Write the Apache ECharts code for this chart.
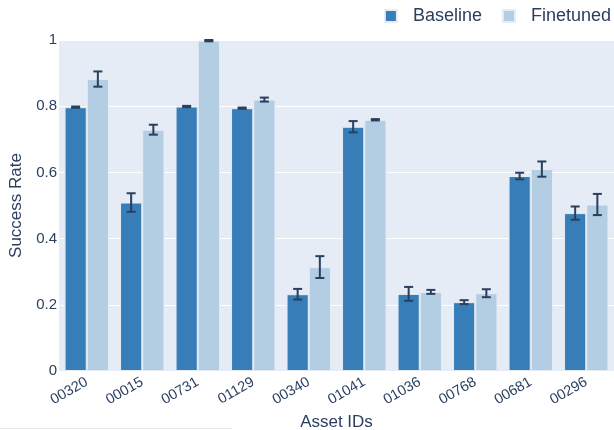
<!DOCTYPE html>
<html>
<head>
<meta charset="utf-8">
<script src="https://cdn.jsdelivr.net/npm/echarts@6/dist/echarts.min.js"></script>
<style>
  html, body { margin: 0; padding: 0; background: #fff; }
  #chart { width: 614px; height: 430px; }
</style>
</head>
<body>
<div id="chart"></div>
<script>
// Asset IDs on the category axis
const assetIds = ['00320', '00015', '00731', '01129', '00340', '01041', '01036', '00768', '00681', '00296'];

// Mean success rate per asset
const baselineMean  = [0.797, 0.509, 0.799, 0.794, 0.232, 0.738, 0.233, 0.208, 0.589, 0.477];
const finetunedMean = [0.882, 0.729, 0.998, 0.820, 0.314, 0.759, 0.239, 0.235, 0.610, 0.503];

// Symmetric error (half-length of the error bar)
const baselineErr  = [0.002, 0.028, 0.002, 0.002, 0.016, 0.017, 0.021, 0.006, 0.010, 0.020];
const finetunedErr = [0.023, 0.015, 0.002, 0.006, 0.033, 0.002, 0.006, 0.012, 0.023, 0.032];

// Y axis ticks
const yTicks = [0, 0.2, 0.4, 0.6, 0.8, 1];

const TEXT = '#2a3f5f';
const FONT = '"Liberation Sans", Arial, sans-serif';

function errorData(means, errs) {
  return means.map((m, i) => [i, m - errs[i], m + errs[i]]);
}

// Draws a capped vertical error bar; offset shifts it onto its bar within the group
function errorRenderer(offsetFrac) {
  return function (params, api) {
    const idx = api.value(0);
    const lo = api.coord([idx, api.value(1)]);
    const hi = api.coord([idx, api.value(2)]);
    const band = api.size([1, 0])[0];
    const x = lo[0] + band * offsetFrac;
    const cap = 4.5;
    const style = { stroke: TEXT, lineWidth: 2, fill: null };
    return {
      type: 'group',
      children: [
        { type: 'line', shape: { x1: x, y1: hi[1], x2: x, y2: lo[1] }, style },
        { type: 'line', shape: { x1: x - cap, y1: hi[1], x2: x + cap, y2: hi[1] }, style },
        { type: 'line', shape: { x1: x - cap, y1: lo[1], x2: x + cap, y2: lo[1] }, style }
      ]
    };
  };
}

const chart = echarts.init(document.getElementById('chart'), null, { renderer: 'canvas' });

chart.setOption({
  animation: false,
  backgroundColor: '#ffffff',
  textStyle: { fontFamily: FONT, color: TEXT },
  grid: {
    left: 59, right: 0, top: 40, bottom: 59,
    containLabel: false,
    outerBoundsMode: 'none',
    show: true, backgroundColor: '#e5ecf6', borderWidth: 0
  },
  legend: {
    top: 2, right: -2,
    itemWidth: 12, itemHeight: 12, itemGap: 20,
    icon: 'rect',
    textStyle: { fontSize: 18, color: TEXT, fontFamily: FONT, padding: [0, 0, 0, 11] },
    data: ['Baseline', 'Finetuned']
  },
  xAxis: {
    type: 'category',
    data: assetIds,
    name: 'Asset IDs',
    nameLocation: 'middle',
    nameGap: 41,
    nameTextStyle: { fontSize: 17, color: TEXT, fontFamily: FONT },
    axisLine: { show: false },
    axisTick: { show: false },
    axisLabel: { rotate: 30, fontSize: 14.5, color: TEXT, fontFamily: FONT, margin: 10, interval: 0 },
    splitLine: { show: false }
  },
  yAxis: {
    type: 'value',
    min: yTicks[0],
    max: yTicks[yTicks.length - 1],
    interval: 0.2,
    name: 'Success Rate',
    nameLocation: 'middle',
    nameGap: 34,
    nameTextStyle: { fontSize: 17, color: TEXT, fontFamily: FONT },
    axisLine: { show: false },
    axisTick: { show: false },
    axisLabel: { fontSize: 15, color: TEXT, fontFamily: FONT, margin: 2 },
    splitLine: { show: true, lineStyle: { color: '#ffffff', width: 1 } }
  },
  series: [
    {
      name: 'Baseline',
      type: 'bar',
      data: baselineMean,
      barGap: '0%',
      barCategoryGap: '20%',
      itemStyle: { color: '#377eb8', borderColor: '#e5ecf6', borderWidth: 1 }
    },
    {
      name: 'Finetuned',
      type: 'bar',
      data: finetunedMean,
      barGap: '0%',
      barCategoryGap: '20%',
      itemStyle: { color: '#b3cde3', borderColor: '#e5ecf6', borderWidth: 1 }
    },
    {
      name: 'Baseline error',
      type: 'custom',
      renderItem: errorRenderer(-0.2),
      data: errorData(baselineMean, baselineErr),
      encode: { x: 0, y: [1, 2] },
      z: 10,
      silent: true
    },
    {
      name: 'Finetuned error',
      type: 'custom',
      renderItem: errorRenderer(0.2),
      data: errorData(finetunedMean, finetunedErr),
      encode: { x: 0, y: [1, 2] },
      z: 10,
      silent: true
    }
  ],
  graphic: [
    {
      type: 'rect',
      left: 0, bottom: 1,
      shape: { width: 232, height: 1 },
      style: { fill: '#e8e8e8' },
      silent: true
    }
  ]
});
</script>
</body>
</html>
